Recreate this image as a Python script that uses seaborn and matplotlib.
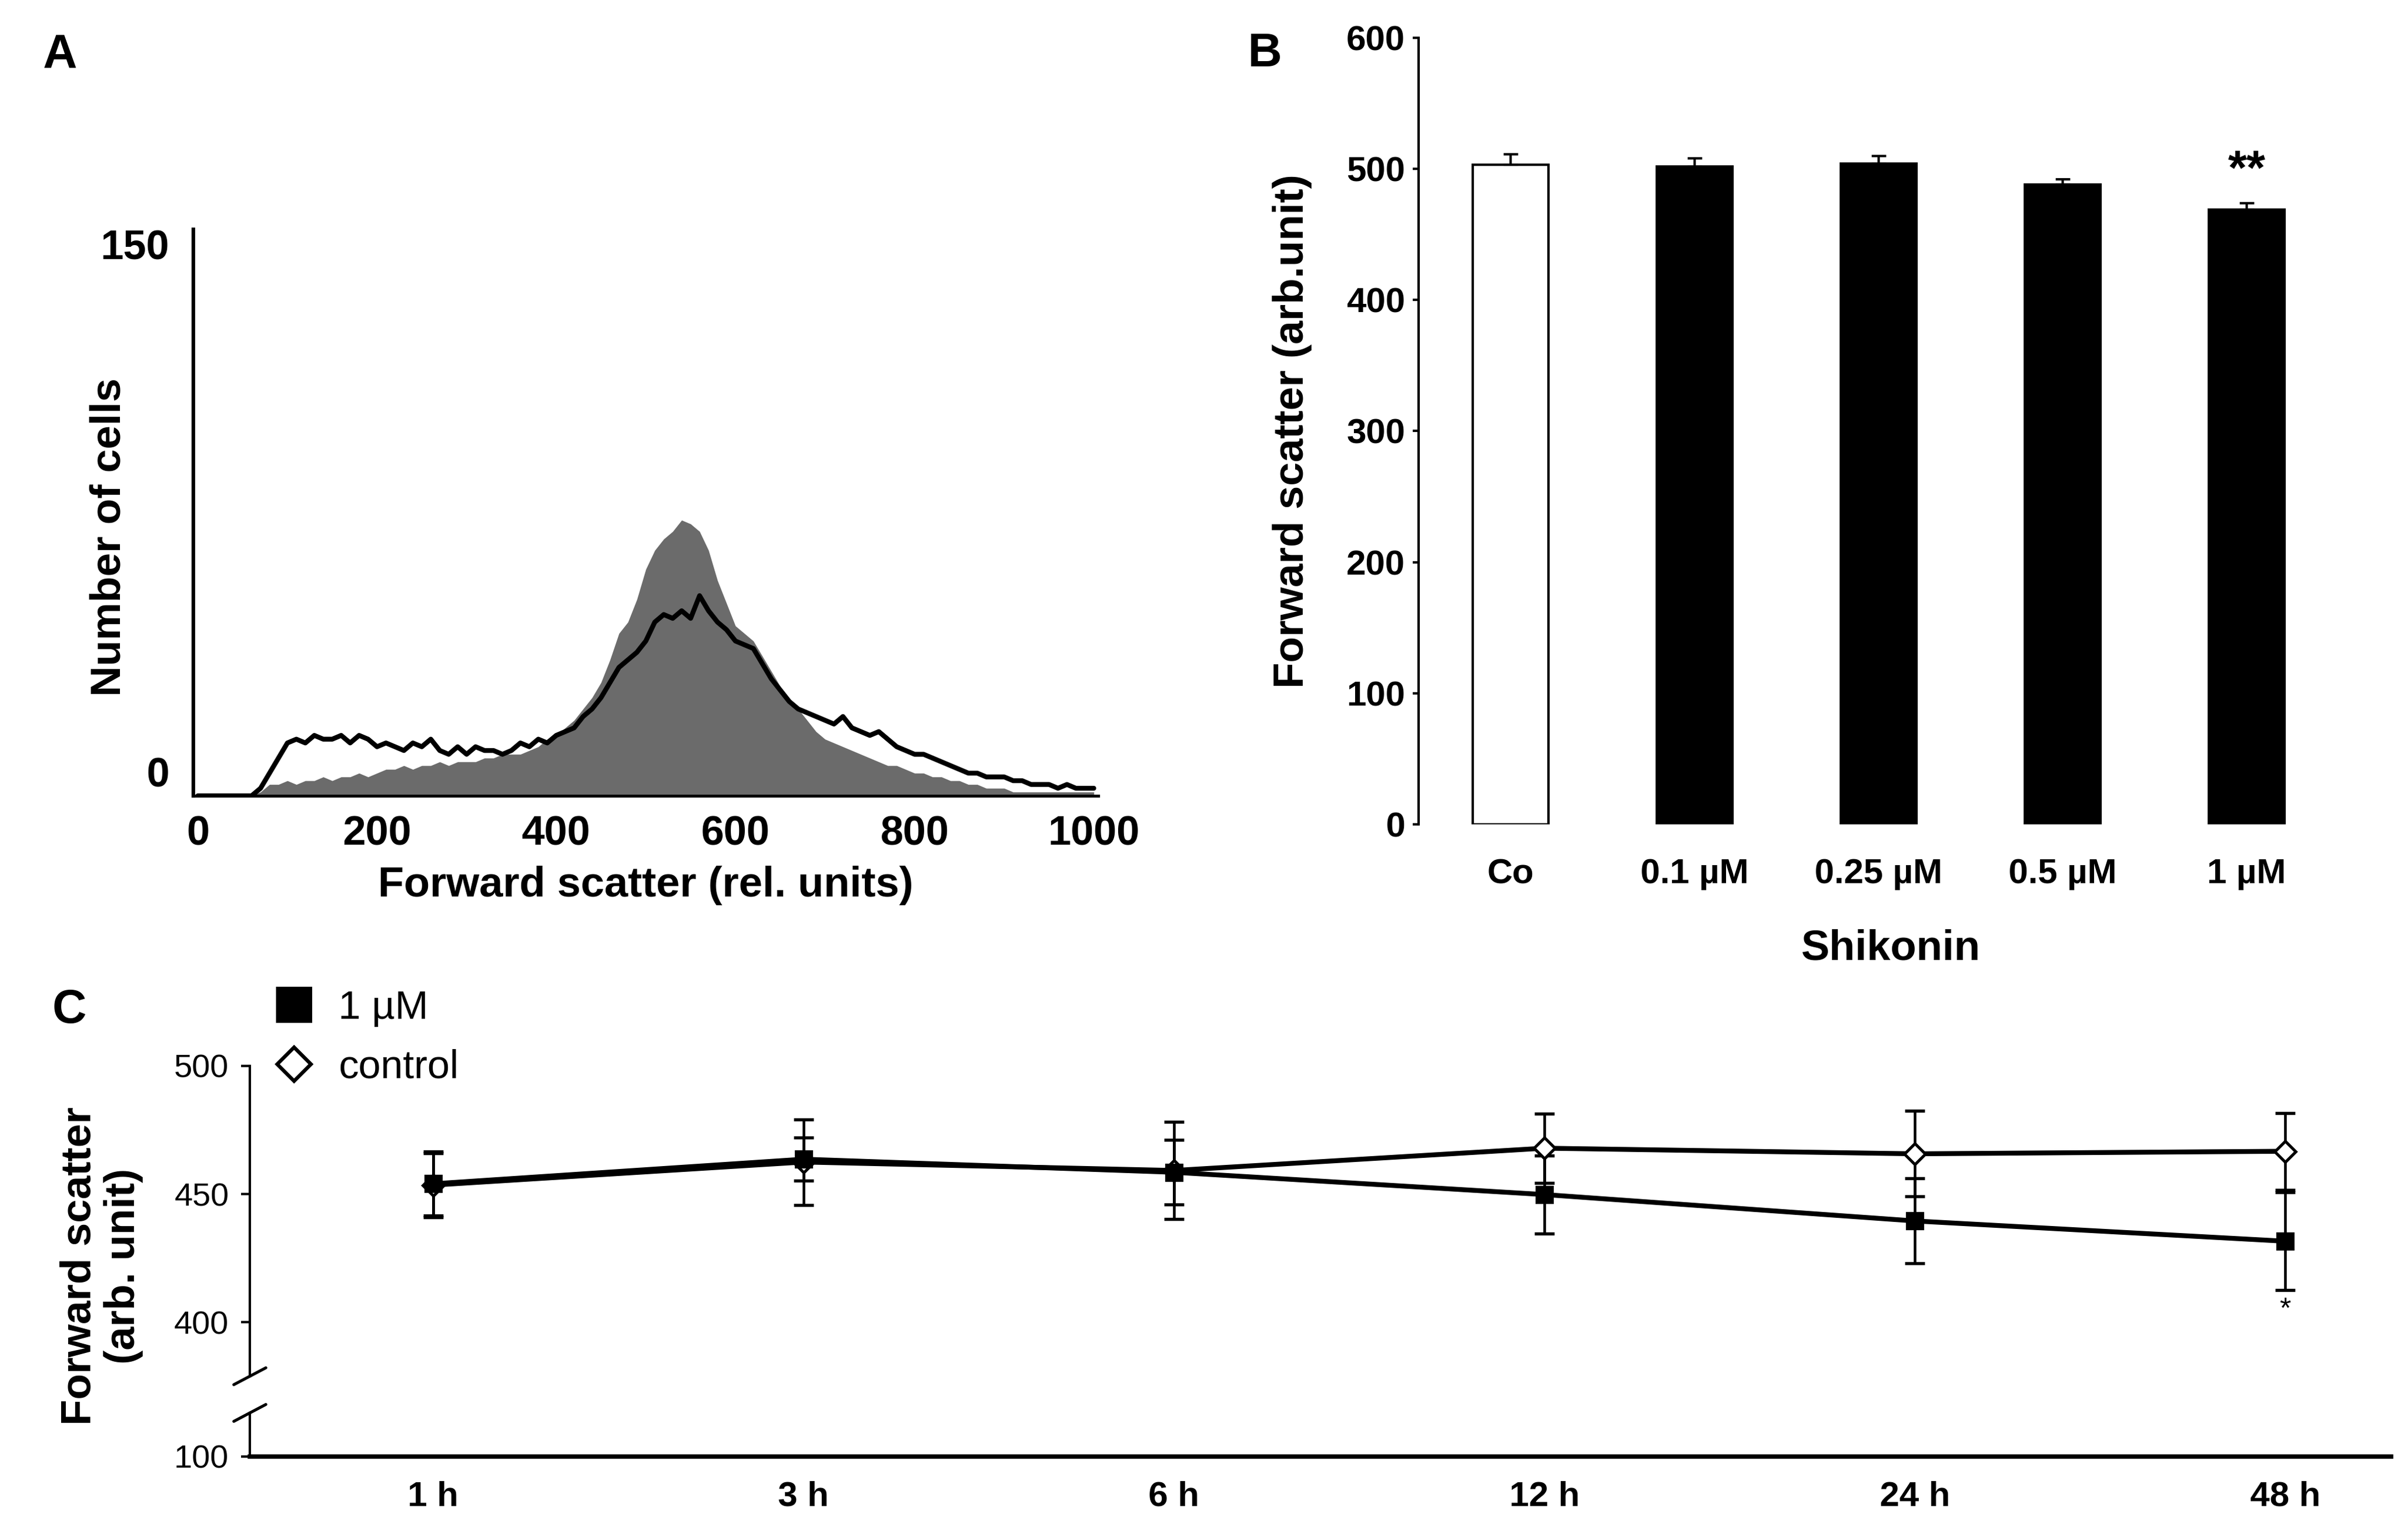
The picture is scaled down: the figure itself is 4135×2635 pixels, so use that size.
import numpy as np
import pandas as pd
import seaborn as sns
import matplotlib.pyplot as plt
from matplotlib.lines import Line2D

# ---------------- data ----------------
# Panel A: forward scatter histogram, one value every 10 rel. units (0..1000)
fsc_channel = list(range(0, 1001, 10))
fsc_control = [0, 0, 0, 0, 0, 0, 0, 1, 3, 3,
               4, 3, 4, 4, 5, 4, 5, 5, 6, 5,
               6, 7, 7, 8, 7, 8, 8, 9, 8, 9,
               9, 9, 10, 10, 11, 11, 11, 12, 13, 15,
               16, 18, 20, 23, 26, 30, 36, 43, 46, 52,
               60, 65, 68, 70, 73, 72, 70, 65, 57, 51,
               45, 43, 41, 37, 33, 29, 26, 23, 20, 17,
               15, 14, 13, 12, 11, 10, 9, 8, 8, 7,
               6, 6, 5, 5, 4, 4, 3, 3, 2, 2,
               2, 1, 1, 1, 1, 1, 1, 1, 1, 1,
               1]
fsc_shikonin = [0, 0, 0, 0, 0, 0, 0, 2, 6, 10,
                14, 15, 14, 16, 15, 15, 16, 14, 16, 15,
                13, 14, 13, 12, 14, 13, 15, 12, 11, 13,
                11, 13, 12, 12, 11, 12, 14, 13, 15, 14,
                16, 17, 18, 21, 23, 26, 30, 34, 36, 38,
                41, 46, 48, 47, 49, 47, 53, 49, 46, 44,
                41, 40, 39, 35, 31, 28, 25, 23, 22, 21,
                20, 19, 21, 18, 17, 16, 17, 15, 13, 12,
                11, 11, 10, 9, 8, 7, 6, 6, 5, 5,
                5, 4, 4, 3, 3, 3, 2, 3, 2, 2,
                2]
hist_xticks = [0, 200, 400, 600, 800, 1000]

# Panel B: concentration dependence
conc_labels = ['Co', '0.1 µM', '0.25 µM', '0.5 µM', '1 µM']
conc_mean = [503, 502, 504, 488, 469]
conc_sem = [8, 6, 6, 4, 5]

# Panel C: time course
time_labels = ['1 h', '3 h', '6 h', '12 h', '24 h', '48 h']
shik_mean = [454, 463.6, 458.5, 449.8, 439.5, 431.6]
shik_sem = [12.5, 8.4, 12.6, 15.2, 16.6, 19]
ctrl_mean = [453.5, 462.5, 459.2, 467.9, 465.7, 466.7]
ctrl_sem = [12.5, 16.7, 19, 13.5, 16.7, 15]

# ---------------- style ----------------
sns.set_style('white')
FONT = ['Liberation Sans', 'DejaVu Sans']
plt.rcParams['font.family'] = FONT
plt.rcParams['font.weight'] = 'bold'
plt.rcParams['axes.labelweight'] = 'bold'
for key in ['text.color', 'axes.labelcolor', 'xtick.color', 'ytick.color',
            'axes.edgecolor']:
    plt.rcParams[key] = 'black'

W, H = 4135, 2635
fig = plt.figure(figsize=(W / 300, H / 300), dpi=300)
fig.patch.set_facecolor('white')


def box(x0, y_bottom, x1, y_top):
    # pixel box -> figure fraction
    return [x0 / W, 1 - y_bottom / H, (x1 - x0) / W, (y_bottom - y_top) / H]


# ---------------- panel A ----------------
axA = fig.add_axes(box(332, 1367, 1886, 394))
axA.fill_between(fsc_channel, fsc_control, color='#6b6b6b', lw=0)
sns.lineplot(x=fsc_channel, y=fsc_shikonin, color='black', lw=2.0, ax=axA)
axA.set_xlim(-5, 1005)
axA.set_ylim(0, 150)
axA.set_xticks(hist_xticks)
axA.set_yticks([0, 150])
axA.tick_params(axis='both', length=0, labelsize=17)
axA.tick_params(axis='x', pad=8)
axA.tick_params(axis='y', pad=10)
ylabs = axA.get_yticklabels()
ylabs[0].set_verticalalignment('bottom')
ylabs[-1].set_verticalalignment('top')
for s in ['top', 'right']:
    axA.spines[s].set_visible(False)
axA.spines['left'].set_linewidth(1.5)
axA.spines['bottom'].set_linewidth(1.2)
axA.set_xlabel('Forward scatter (rel. units)', fontsize=17.5,
               fontweight='bold', labelpad=5)
axA.set_ylabel('Number of cells', fontsize=17.5, fontweight='bold')
axA.yaxis.set_label_coords(-0.071, 0.457)
fig.text(103 / W, 1 - 95 / H, 'A', ha='center', va='center', fontsize=19.5)

# ---------------- panel B ----------------
axB = fig.add_axes(box(2436, 1416, 4016, 65))
bar_colors = {lab: ('white' if lab == 'Co' else 'black') for lab in conc_labels}
sns.barplot(x=conc_labels, y=conc_mean, hue=conc_labels, palette=bar_colors,
            saturation=1, width=0.41, edgecolor='black', linewidth=1.0,
            errorbar=None, legend=False, ax=axB)
axB.errorbar(range(len(conc_labels)), conc_mean,
             yerr=[np.zeros(len(conc_sem)), conc_sem], fmt='none',
             ecolor='black', elinewidth=1.0, capsize=3, capthick=1.0)
axB.text(len(conc_labels) - 1, conc_mean[-1] + conc_sem[-1] + 24, '**',
         ha='center', va='center', fontsize=20)
axB.set_xlim(-0.5, 4.5)
axB.set_ylim(0, 600)
axB.set_yticks(range(0, 601, 100))
axB.tick_params(axis='y', length=2.5, width=1, direction='out', pad=3,
                labelsize=14.5, left=True)
axB.tick_params(axis='x', length=0, pad=14, labelsize=14.5)
for s in ['top', 'right', 'bottom']:
    axB.spines[s].set_visible(False)
axB.spines['left'].set_linewidth(1.0)
axB.set_xlabel('Shikonin', fontsize=17.5, fontweight='bold')
axB.xaxis.set_label_coords(0.513, -0.133)
axB.set_ylabel('Forward scatter (arb.unit)', fontsize=17.5, fontweight='bold')
axB.yaxis.set_label_coords(-0.116, 0.5)
fig.text(2172 / W, 1 - 93 / H, 'B', ha='center', va='center', fontsize=19.5)

# ---------------- panel C ----------------
axC = fig.add_axes(box(429, 2364, 4106, 1831))
axCb = fig.add_axes(box(429, 2502, 4106, 2427), sharex=axC)

pos = list(range(len(time_labels)))
df_c = pd.DataFrame({'pos': pos * 2,
                     'fsc': ctrl_mean + shik_mean,
                     'group': ['control'] * len(pos) + ['1 µM'] * len(pos)})

axC.errorbar(pos, ctrl_mean, yerr=ctrl_sem, fmt='none', ecolor='black',
             elinewidth=1.1, capsize=4, capthick=1.3, zorder=1)
axC.errorbar(pos, shik_mean, yerr=shik_sem, fmt='none', ecolor='black',
             elinewidth=1.1, capsize=4, capthick=1.3, zorder=1)
sns.lineplot(data=df_c[df_c['group'] == 'control'], x='pos', y='fsc',
             color='black', lw=2.0, marker='D', ms=6, markerfacecolor='white',
             markeredgecolor='black', markeredgewidth=1.2, ax=axC, zorder=3)
sns.lineplot(data=df_c[df_c['group'] == '1 µM'], x='pos', y='fsc',
             color='black', lw=2.0, marker='s', ms=6.5, markerfacecolor='black',
             markeredgecolor='black', markeredgewidth=0.8, ax=axC, zorder=4)
axC.text(pos[-1], shik_mean[-1] - shik_sem[-1] - 7.8, '*', ha='center',
         va='center', fontsize=12, fontweight='normal')

axC.set_xlim(-0.495, 5.286)
axC.set_ylim(378.9, 500)
axC.set_yticks([400, 450, 500])
axCb.set_ylim(100, 117)
axCb.set_yticks([100])
for a in (axC, axCb):
    a.set_xlabel('')
    a.set_ylabel('')
    a.tick_params(axis='y', length=3.6, width=1, direction='out', pad=5,
                  labelsize=13.5, left=True)
    for lab in a.get_yticklabels():
        lab.set_fontweight('normal')
    for s in ['top', 'right']:
        a.spines[s].set_visible(False)
    a.spines['left'].set_linewidth(1.0)
axC.spines['bottom'].set_visible(False)
axC.tick_params(axis='x', length=0, labelbottom=False)
axCb.spines['bottom'].set_linewidth(1.8)
axCb.set_xticks(pos)
axCb.set_xticklabels(time_labels)
axCb.tick_params(axis='x', length=0, pad=10, labelsize=14.5)

# axis break marks
dx = 27.5 / 3677
axC.plot([-dx, dx], [-14.5 / 533, 14.5 / 533], transform=axC.transAxes,
         color='black', lw=1.2, clip_on=False)
axCb.plot([-dx, dx], [1 - 14.5 / 75, 1 + 14.5 / 75], transform=axCb.transAxes,
          color='black', lw=1.2, clip_on=False)

fig.text(174 / W, 1 - 2175 / H, 'Forward scatter\n(arb. unit)', rotation=90,
         ha='center', va='center', multialignment='center', fontsize=17.5,
         linespacing=1.15)

handles = [Line2D([], [], ls='none', marker='s', ms=14, color='black'),
           Line2D([], [], ls='none', marker='D', ms=10, markerfacecolor='white',
                  markeredgecolor='black', markeredgewidth=1.5)]
fig.legend(handles, ['1 µM', 'control'], loc='upper left',
           bbox_to_anchor=(471 / W, 1 - 1700 / H), frameon=False,
           prop={'family': FONT, 'size': 16.5, 'weight': 'normal'},
           handlelength=1.0, handletextpad=0.6, labelspacing=0.55,
           borderpad=0, borderaxespad=0)
fig.text(119 / W, 1 - 1736 / H, 'C', ha='center', va='center', fontsize=19.5)

fig.savefig('out.png', dpi=300, facecolor='white')
